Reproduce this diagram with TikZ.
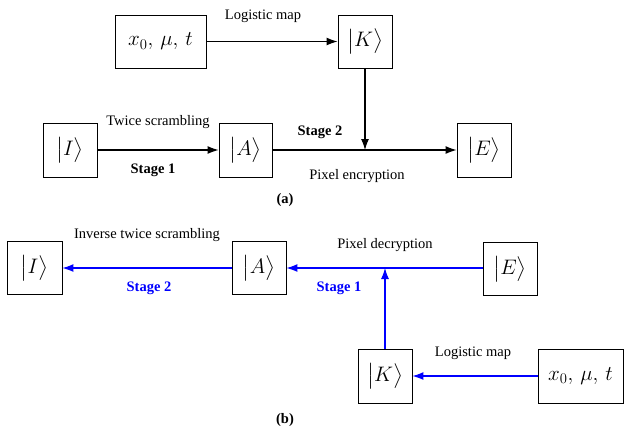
\documentclass[tikz,border=0pt]{standalone}
\usepackage{fix-cm}
\usepackage{amsmath}
\usepackage{fontspec}
\setmainfont{Liberation Serif}
\usetikzlibrary{arrows.meta}
\definecolor{bblue}{RGB}{0,0,255}
\tikzset{
  box/.style={draw, line width=0.9pt, inner sep=0pt, font=\fontsize{21}{25}\selectfont},
  lbl/.style={font=\fontsize{14.5}{17}\selectfont, inner sep=0pt},
  blbl/.style={font=\fontsize{14.5}{17}\selectfont\bfseries, inner sep=0pt},
  arr/.style={line width=1.1pt, -{Latex[length=11pt,width=8pt]}},
  barr/.style={arr, draw=bblue, color=bblue},
}
\newcommand{\ket}[1]{$\bigl|#1\bigr\rangle$}
\begin{document}
\begin{tikzpicture}[x=1pt,y=-1pt]
\useasboundingbox (0,0) rectangle (625,432);
% (a)
\node[box, minimum width=91pt, minimum height=53pt] (x0a) at (160.5,41.5) {$x_0,\,\mu,\,t$};
\node[box, minimum width=54pt, minimum height=53pt] (Ka) at (365,41.5) {\ket{K}};
\node[box, minimum width=54pt, minimum height=54pt] (Ia) at (70,150) {\ket{I}};
\node[box, minimum width=53pt, minimum height=54pt] (Aa) at (245.5,150) {\ket{A}};
\node[box, minimum width=54pt, minimum height=54pt] (Ea) at (484,150) {\ket{E}};
\coordinate (ja) at (365,150);
\draw[arr] (x0a) -- (Ka);
\draw[arr] (Ia) -- (Aa);
\draw[line width=1.1pt] (Aa) -- (ja);
\draw[arr] (ja) -- (Ea);
\draw[arr] (Ka) -- (ja);
\node[lbl] (la1) at (263,16) {Logistic map};
\node[lbl] (la2) at (158,122) {Twice scrambling};
\node[blbl] (la3) at (153,170) {Stage 1};
\node[blbl] (la4) at (320,132) {Stage 2};
\node[lbl] (la5) at (357,176) {Pixel encryption};
\node[blbl] (capa) at (285,200) {(a)};
% (b)
\node[box, minimum width=55pt, minimum height=53pt] (Ib) at (34.5,268) {\ket{I}};
\node[box, minimum width=54pt, minimum height=53pt] (Ab) at (259,268) {\ket{A}};
\node[box, minimum width=54pt, minimum height=53pt] (Eb) at (510,269) {\ket{E}};
\node[box, minimum width=54pt, minimum height=54pt] (Kb) at (385,376) {\ket{K}};
\node[box, minimum width=85pt, minimum height=54pt] (x0b) at (580.5,376) {$x_0,\,\mu,\,t$};
\coordinate (jb) at (385,268);
\draw[barr] (Ab) -- (Ib);
\draw[barr] (Eb.west |- jb) -- (Ab);
\draw[barr] (Kb) -- (jb);
\draw[barr] (x0b) -- (Kb);
\node[lbl] (lb1) at (147,235) {Inverse twice scrambling};
\node[blbl, text=bblue] (lb2) at (149,288) {Stage 2};
\node[lbl] (lb3) at (385,245) {Pixel decryption};
\node[blbl, text=bblue] (lb4) at (339,288) {Stage 1};
\node[lbl] (lb5) at (473,353) {Logistic map};
\node[blbl] (capb) at (285,420) {(b)};
\end{tikzpicture}
\end{document}
